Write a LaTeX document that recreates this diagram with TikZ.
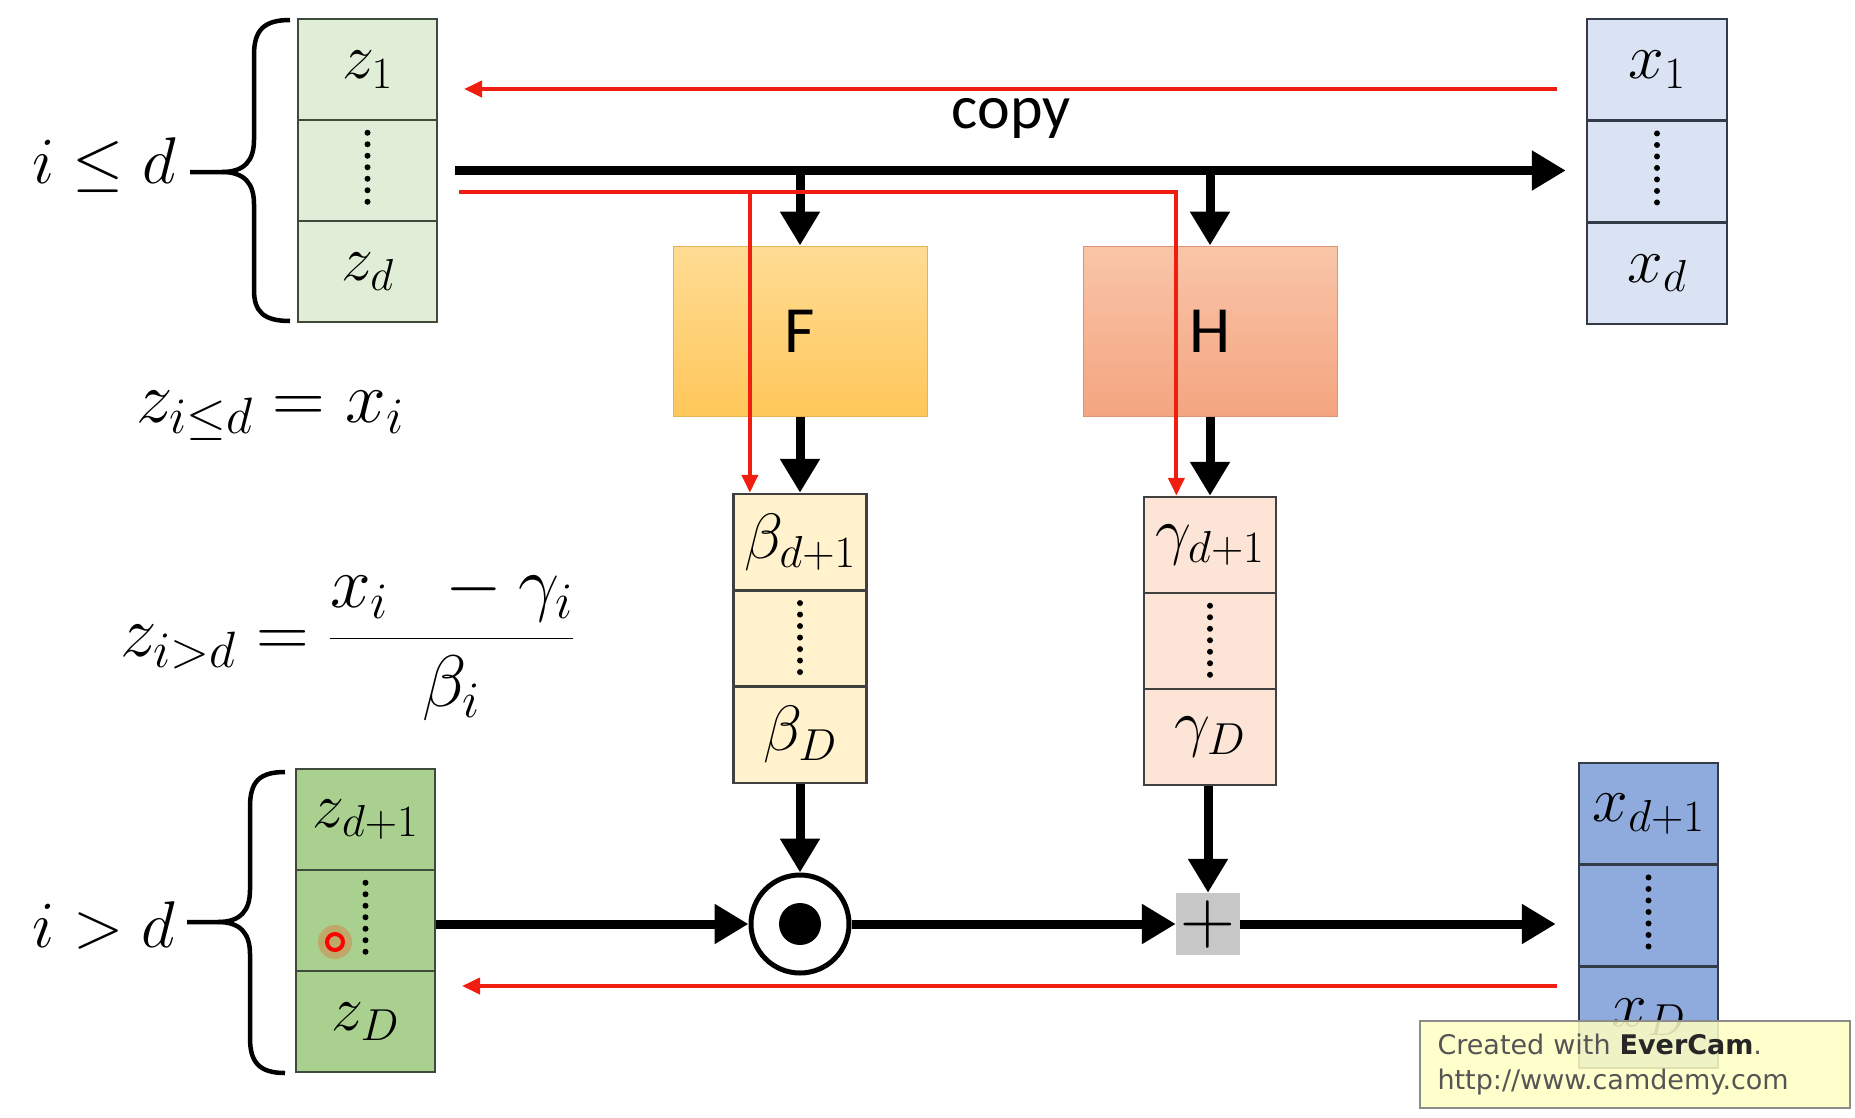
\RequirePackage{fix-cm}
\documentclass[tikz,border=0pt]{standalone}
\usepackage{amsmath}
\usepackage{fontspec}
\usetikzlibrary{arrows.meta,calc}
\newfontfamily\calibri{Carlito}
\newfontfamily\verd{DejaVu Sans}
\definecolor{zlight}{HTML}{E0EDD7}
\definecolor{zdark}{HTML}{A9D08E}
\definecolor{xlight}{HTML}{DAE3F3}
\definecolor{xdark}{HTML}{8FAADC}
\definecolor{betac}{HTML}{FFF2CC}
\definecolor{gammac}{HTML}{FCE4D6}
\definecolor{Ftop}{HTML}{FFDC94}
\definecolor{Fbot}{HTML}{FFC75A}
\definecolor{Htop}{HTML}{F9C5A8}
\definecolor{Hbot}{HTML}{F4A580}
\definecolor{redl}{HTML}{F01E10}
\definecolor{wmfill}{HTML}{FFFFC2}
\definecolor{zbord}{HTML}{3E4A3C}
\definecolor{xbord}{HTML}{333A48}
\definecolor{wmtext}{HTML}{555555}
\tikzset{
  cellsty/.style={line width=2.5pt, inner sep=0pt, font=\fontsize{64}{70}\selectfont},
  dotline/.style={line width=6pt, line cap=round, dash pattern=on 0pt off 11.5pt},
  funcbox/.style={draw=#1, line width=1pt, minimum width=254pt, minimum height=170pt, inner sep=0pt, font=\calibri\fontsize{66}{70}\selectfont},
  blk/.style={line width=9pt, -{Triangle[length=34pt,width=38pt]}},
  redarr/.style={draw=redl, line width=4pt, -{Triangle[length=18pt,width=16pt]}},
  mth/.style={inner sep=0pt, font=\fontsize{66}{70}\selectfont},
  frm/.style={inner sep=0pt, font=\fontsize{73}{78}\selectfont},
  bracesty/.style={line width=4.5pt},
  mulnode/.style={circle, draw, line width=5pt, fill=white, minimum size=98pt, inner sep=0pt},
  addnode/.style={fill=black!22, minimum width=64pt, minimum height=62pt, inner sep=0pt, font=\fontsize{76}{76}\selectfont},
  wmbox/.style={draw=black!45, line width=1.5pt, fill=wmfill, fill opacity=0.85, text opacity=1, minimum width=430pt, minimum height=87pt, inner sep=0pt, align=left, text width=395pt, font=\verd\fontsize{27}{35}\selectfont, text=wmtext}
}
\newcommand\mkstack[9]{%
  \node[cellsty, draw=#9, fill=#6, minimum width=#4pt, minimum height=#5pt] (#11) at (#2,{#3+0.5*#5}) {#7};
  \node[cellsty, draw=#9, fill=#6, minimum width=#4pt, minimum height=#5pt] (#12) at (#2,{#3+1.5*#5}) {};
  \node[cellsty, draw=#9, fill=#6, minimum width=#4pt, minimum height=#5pt] (#13) at (#2,{#3+2.5*#5}) {#8};
  \draw[dotline] ([yshift=-14pt]#12.north) -- ([yshift=10pt]#12.south);
}
\begin{document}
\begin{tikzpicture}[x=1pt,y=-1pt]
\useasboundingbox (0,0) rectangle (1855,1117);
% stacks
\mkstack{zt}{367.5}{19}{139}{101}{zlight}{$z_1$}{$z_d$}{zbord}
\mkstack{xt}{1657}{19}{140}{101.7}{xlight}{$x_1$}{$x_d$}{xbord}
\mkstack{b}{800}{494}{133}{96.3}{betac}{$\beta_{d+1}$}{$\beta_D$}{black!75}
\mkstack{g}{1210}{497}{132}{96}{gammac}{$\gamma_{d+1}$}{$\gamma_D$}{black!75}
\mkstack{zb}{365.5}{769}{139}{101}{zdark}{$z_{d+1}$}{$z_D$}{zbord}
\mkstack{xb}{1648.5}{763}{139}{101.7}{xdark}{$x_{d+1}$}{$x_D$}{xbord}
% function boxes
\node[funcbox=Fbot!90!black, top color=Ftop, bottom color=Fbot] (F) at (800,331) {F};
\node[funcbox=Hbot!90!black, top color=Htop, bottom color=Hbot] (H) at (1210,331) {H};
% operators
\node[mulnode] (mul) at (800,924) {};
\fill (mul.center) circle[radius=21pt];
\node[addnode] (add) at (1208,924) {$+$};
% labels
\node[mth] (ile) at (104,165) {$i \leq d$};
\node[mth] (igt) at (104,925) {$i > d$};
\node[frm] (eq1) at (270,416) {$z_{i\leq d} = x_i$};
\node[frm, anchor=west] (eq2) at (120,643) {$z_{i>d} = \dfrac{x_i\;\;-\gamma_i}{\beta_i}$};
\node[font=\calibri\fontsize{62}{66}\selectfont, inner sep=0pt] (copy) at (1011,118) {copy};
% braces
\draw[bracesty] (290,20) .. controls (264,20) and (254,30) .. (254,55) -- (254,140) .. controls (254,160) and (245,172) .. (222,172) -- (190,172);
\draw[bracesty] (222,172) .. controls (245,172) and (254,184) .. (254,204) -- (254,290) .. controls (254,312) and (264,321) .. (290,321);
\draw[bracesty] (285,772) .. controls (259,772) and (250,782) .. (250,807) -- (250,890) .. controls (250,910) and (241,922) .. (218,922) -- (187,922);
\draw[bracesty] (218,922) .. controls (241,922) and (250,934) .. (250,954) -- (250,1038) .. controls (250,1062) and (259,1073) .. (285,1073);
% black connectors
\coordinate (tl) at ($(zt2.east)+(17,0)$);
\draw[blk] (tl) -- ($(tl -| xt2.west)+(-20,0)$);
\draw[blk] (F.north |- tl) -- (F.north);
\draw[blk] (H.north |- tl) -- (H.north);
\draw[blk] (F.south) -- (b1.north);
\draw[blk] (H.south) -- (g1.north);
\draw[blk] (b3.south) -- (mul.north);
\draw[blk] (g3.south -| add.north) -- (add.north);
\draw[blk] (zb2.east |- mul.west) -- (mul.west);
\draw[blk] (mul.east) -- (add.west);
\draw[blk] (add.east) -- ($(add.east -| xb2.west)+(-22,0)$);
% red connectors
\coordinate (ra) at (1557,89);
\coordinate (rae) at (464,89);
\draw[redarr] (ra) -- (rae);
\coordinate (rb) at (459,192);
\coordinate (bIn) at ($(b1.north west)!0.13!(b1.north east)$);
\coordinate (gIn) at ($(g1.north west)!0.25!(g1.north east)$);
\draw[redarr] (rb) -| (gIn);
\draw[redarr] (rb -| bIn) -- (bIn);
\coordinate (rc) at (1557,986);
\coordinate (rd) at (462,986);
\draw[redarr] (rc) -- (rd);
% pointer dot
\fill[red!60!orange, opacity=0.25] (335,942) circle[radius=17pt];
\draw[red, line width=4pt] (335,942) circle[radius=8pt];
% watermark
\node[wmbox] (wm) at (1635,1064.5) {Created with \textcolor{black!85}{\textbf{EverCam}}.\\http://www.camdemy.com};
\end{tikzpicture}
\end{document}
